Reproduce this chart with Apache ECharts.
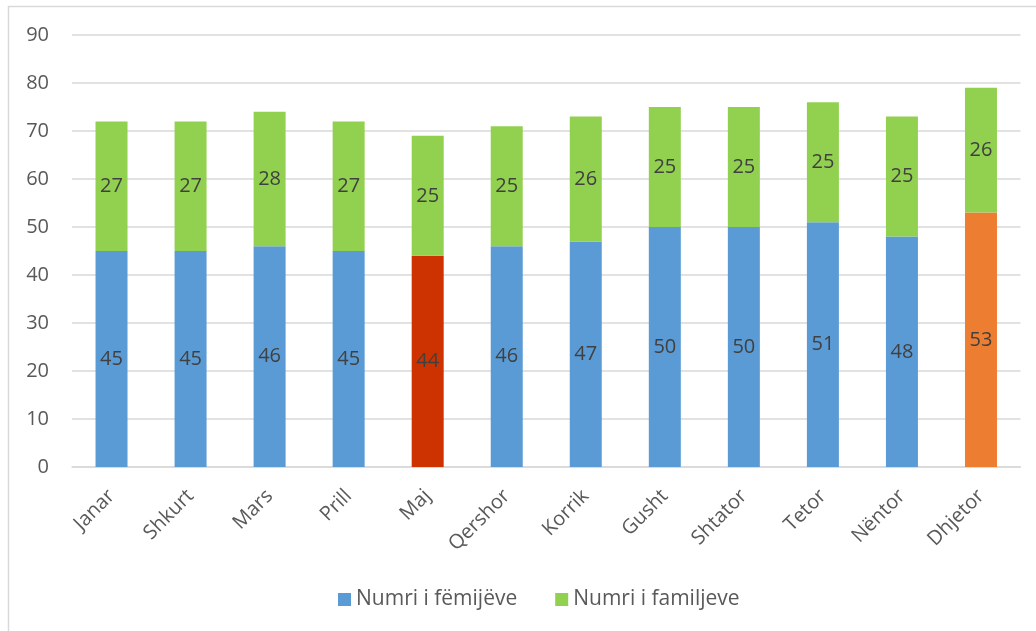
<!DOCTYPE html>
<html>
<head>
<meta charset="utf-8">
<script src="https://cdn.jsdelivr.net/npm/echarts@6/dist/echarts.min.js"></script>
<style>
html,body{margin:0;padding:0;background:#fff;}
#chart{width:1036px;height:631px;}
</style>
</head>
<body>
<div id="chart"></div>
<script>
const categories = ['Janar','Shkurt','Mars','Prill','Maj','Qershor','Korrik','Gusht','Shtator','Tetor','Nëntor','Dhjetor'];
const children = [45,45,46,45,44,46,47,50,50,51,48,53];
const families = [27,27,28,27,25,25,26,25,25,25,25,26];
const seriesNames = ['Numri i fëmijëve','Numri i familjeve'];
const yTicks = {min:0, max:90, interval:10};

const blue = '#5B9BD5', green = '#92D050';
const specialColors = {'Maj':'#CC3300','Dhjetor':'#ED7D31'};
const font = '"Open Sans", "Noto Sans", sans-serif';

const chart = echarts.init(document.getElementById('chart'));
chart.setOption({
  animation:false,
  backgroundColor:'#fff',
  textStyle:{fontFamily:font},
  graphic:[{type:'rect',shape:{x:8.5,y:6.5,width:1200,height:800},style:{fill:'none',stroke:'#d9d9d9',lineWidth:1.5},silent:true}],
  grid:{left:72,right:15.5,top:35,bottom:164,containLabel:false},
  legend:{
    data:seriesNames,bottom:16,left:333,itemWidth:13,itemHeight:13,itemGap:38,
    icon:'rect',textStyle:{color:'#595959',fontSize:21,fontFamily:font}
  },
  xAxis:{
    type:'category',data:categories,
    axisLine:{lineStyle:{color:'#d9d9d9',width:1.5}},
    axisTick:{show:false},
    axisLabel:{rotate:45,color:'#595959',fontSize:20,margin:26,interval:0,fontFamily:font}
  },
  yAxis:{
    type:'value',min:yTicks.min,max:yTicks.max,interval:yTicks.interval,
    axisLine:{show:false},axisTick:{show:false},
    splitLine:{lineStyle:{color:'#d9d9d9',width:1.5}},
    axisLabel:{color:'#595959',fontSize:20,margin:23,fontFamily:font}
  },
  series:[
    {
      name:seriesNames[0],type:'bar',stack:'t',barWidth:32,
      itemStyle:{color:blue},
      data:children.map((v,i)=>specialColors[categories[i]]?{value:v,itemStyle:{color:specialColors[categories[i]]}}:v),
      label:{show:true,position:'inside',color:'#404040',fontSize:20,fontFamily:font}
    },
    {
      name:seriesNames[1],type:'bar',stack:'t',barWidth:32,
      itemStyle:{color:green},
      data:families,
      label:{show:true,position:'inside',color:'#404040',fontSize:20,fontFamily:font}
    }
  ]
});
</script>
</body>
</html>
